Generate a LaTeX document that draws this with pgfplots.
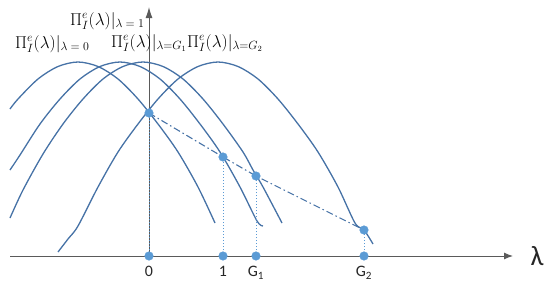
\documentclass[border=0pt]{standalone}
\usepackage{fontspec}
\setmainfont{Carlito}
\usepackage{pgfplots}
\pgfplotsset{compat=1.18}
\usetikzlibrary{arrows.meta}
\definecolor{curveblue}{HTML}{4672A6}
\definecolor{dotblue}{HTML}{5B9BD5}
\definecolor{axisgray}{HTML}{5A5A5A}

\begin{document}
\begin{tikzpicture}
\begin{axis}[
    x=1bp, y=1bp,
    xmin=-139, xmax=364,
    ymin=0, ymax=249,
    enlargelimits=false,
    axis lines=middle,
    x axis line style={axisgray, line width=1bp, -{Latex[length=9bp,width=7bp]}},
    y axis line style={axisgray, line width=1bp, -{Latex[length=11bp,width=7bp]}},
    xtick={0,74,107,215},
    xticklabels={0,1,G\textsubscript{1},G\textsubscript{2}},
    ytick=\empty,
    major tick length=0pt,
    hide obscured x ticks=false,
    xticklabel style={font=\fontsize{16}{18}\selectfont, text=black!85, yshift=-7bp},
    clip=false,
]
% invisible frame with the reference's proportions
\path (axis cs:-149,-35) rectangle (axis cs:401,256);

% profit curves
\addplot[curveblue, line width=1.3bp, smooth] coordinates {
    (-139,147) (-131,157) (-111,177) (-91,189.5) (-71,194) (-51,189.5)
    (-31,177) (-11,157) (9,132) (29,104) (49,69) (66,33)
};
\addplot[curveblue, line width=1.3bp, smooth] coordinates {
    (-139,86) (-129,101) (-109,132) (-89,157) (-69,177) (-49,189.5)
    (-29,194) (-9,189.5) (11,177) (31,157) (51,132) (71,104) (91,69)
    (108,35) (114,30)
};
\addplot[curveblue, line width=1.3bp, smooth] coordinates {
    (-139,38) (-126,66) (-106,102) (-86,132) (-66,157) (-46,177)
    (-26,189.5) (-6,194) (14,189.5) (34,177) (54,157) (74,132) (94,104)
    (104,86) (114,69) (133,33)
};
\addplot[curveblue, line width=1.3bp, smooth] coordinates {
    (-91,4) (-81,17) (-71,30) (-51,69) (-31,104) (-11,132) (9,157)
    (29,177) (49,189.5) (69,194) (89,189.5) (109,177) (129,157) (149,132)
    (169,104) (189,69) (206,33) (215,26) (224,12)
};

% dotted drop lines
\addplot[dotblue, dotted, line width=1bp] coordinates {(0,0) (0,143)};
\addplot[dotblue, dotted, line width=1bp] coordinates {(74,0) (74,99)};
\addplot[dotblue, dotted, line width=1bp] coordinates {(107,0) (107,80)};
\addplot[dotblue, dotted, line width=1bp] coordinates {(215,0) (215,26)};

% dash-dot path of optima
\addplot[curveblue, line width=1.1bp, dash pattern=on 7bp off 3bp on 1.5bp off 3bp] coordinates {
    (0,143) (74,99) (107,80) (215,26)
};

% points
\addplot[only marks, mark=*, mark size=4.3bp, dotblue] coordinates {
    (0,143) (74,99) (107,80) (215,26)
    (0,0) (74,0) (107,0) (215,0)
};

% labels
\node[font=\fontsize{17}{19}\selectfont, anchor=base west, inner sep=0pt] at (axis cs:-79,231) {$\Pi_I^e(\lambda)|_{\lambda\;=\;1}$};
\node[font=\fontsize{17}{19}\selectfont, anchor=base west, inner sep=0pt] at (axis cs:-134,208) {$\Pi_I^e(\lambda)|_{\lambda\;=\;0}$};
\node[font=\fontsize{17}{19}\selectfont, anchor=base west, inner sep=0pt] at (axis cs:-38,209) {$\Pi_I^e(\lambda)|_{\lambda=G_1}$};
\node[font=\fontsize{17}{19}\selectfont, anchor=base west, inner sep=0pt] at (axis cs:38,209) {$\Pi_I^e(\lambda)|_{\lambda=G_2}$};
\node[font=\fontsize{28}{30}\selectfont, text=black!85] at (axis cs:388,0) {λ};
\end{axis}
\end{tikzpicture}
\end{document}
